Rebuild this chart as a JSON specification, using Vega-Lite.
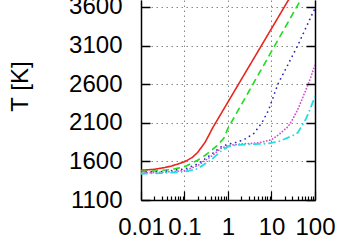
{
  "$schema": "https://vega.github.io/schema/vega-lite/v6.json",
  "width": 174,
  "height": 200,
  "autosize": {"type": "none"},
  "padding": {"left": 141, "top": 0, "right": 45, "bottom": 40},
  "background": "white",
  "config": {"view": {"stroke": null}, "font": "Liberation Sans"},
  "data": {"values": [
    {"s": "r", "x": 0.01, "T": 1485}, {"s": "r", "x": 0.02, "T": 1497}, {"s": "r", "x": 0.035, "T": 1520}, {"s": "r", "x": 0.05, "T": 1540}, {"s": "r", "x": 0.07, "T": 1565}, {"s": "r", "x": 0.1, "T": 1595}, {"s": "r", "x": 0.15, "T": 1650}, {"s": "r", "x": 0.2, "T": 1715}, {"s": "r", "x": 0.3, "T": 1850}, {"s": "r", "x": 0.45, "T": 2040}, {"s": "r", "x": 1, "T": 2370}, {"s": "r", "x": 10, "T": 3320}, {"s": "r", "x": 100, "T": 4270},
    {"s": "g", "x": 0.01, "T": 1470}, {"s": "g", "x": 0.02, "T": 1475}, {"s": "g", "x": 0.05, "T": 1495}, {"s": "g", "x": 0.1, "T": 1530}, {"s": "g", "x": 0.2, "T": 1615}, {"s": "g", "x": 0.3, "T": 1680}, {"s": "g", "x": 0.4, "T": 1735}, {"s": "g", "x": 0.6, "T": 1820}, {"s": "g", "x": 0.8, "T": 1900}, {"s": "g", "x": 1, "T": 2030}, {"s": "g", "x": 10, "T": 3024}, {"s": "g", "x": 100, "T": 4018},
    {"s": "b", "x": 0.01, "T": 1460}, {"s": "b", "x": 0.03, "T": 1468}, {"s": "b", "x": 0.1, "T": 1500}, {"s": "b", "x": 0.2, "T": 1565}, {"s": "b", "x": 0.4, "T": 1685}, {"s": "b", "x": 0.7, "T": 1790}, {"s": "b", "x": 1, "T": 1822}, {"s": "b", "x": 1.5, "T": 1845}, {"s": "b", "x": 2.3, "T": 1880}, {"s": "b", "x": 3.9, "T": 1960}, {"s": "b", "x": 6, "T": 2100}, {"s": "b", "x": 8.5, "T": 2260}, {"s": "b", "x": 14, "T": 2600}, {"s": "b", "x": 40, "T": 3100}, {"s": "b", "x": 90, "T": 3530}, {"s": "b", "x": 100, "T": 3580},
    {"s": "m", "x": 0.01, "T": 1450}, {"s": "m", "x": 0.03, "T": 1458}, {"s": "m", "x": 0.1, "T": 1480}, {"s": "m", "x": 0.2, "T": 1545}, {"s": "m", "x": 0.4, "T": 1660}, {"s": "m", "x": 0.7, "T": 1770}, {"s": "m", "x": 1, "T": 1805}, {"s": "m", "x": 2, "T": 1825}, {"s": "m", "x": 5, "T": 1840}, {"s": "m", "x": 10, "T": 1880}, {"s": "m", "x": 15, "T": 1950}, {"s": "m", "x": 24, "T": 2050}, {"s": "m", "x": 30, "T": 2136}, {"s": "m", "x": 40, "T": 2270}, {"s": "m", "x": 70, "T": 2600}, {"s": "m", "x": 100, "T": 2850},
    {"s": "c", "x": 0.01, "T": 1440}, {"s": "c", "x": 0.03, "T": 1448}, {"s": "c", "x": 0.1, "T": 1465}, {"s": "c", "x": 0.2, "T": 1505}, {"s": "c", "x": 0.4, "T": 1615}, {"s": "c", "x": 0.7, "T": 1735}, {"s": "c", "x": 1, "T": 1790}, {"s": "c", "x": 1.5, "T": 1812}, {"s": "c", "x": 3, "T": 1820}, {"s": "c", "x": 8, "T": 1830}, {"s": "c", "x": 15, "T": 1860}, {"s": "c", "x": 30, "T": 1930}, {"s": "c", "x": 40, "T": 1970}, {"s": "c", "x": 60, "T": 2136}, {"s": "c", "x": 71, "T": 2227}, {"s": "c", "x": 100, "T": 2440}
  ]},
  "encoding": {
    "x": {
      "field": "x", "type": "quantitative",
      "scale": {"type": "log", "domain": [0.01, 100], "nice": false},
      "axis": {
        "title": null,
        "values": [0.01, 0.02, 0.03, 0.04, 0.05, 0.06, 0.07, 0.08, 0.09, 0.1, 0.2, 0.3, 0.4, 0.5, 0.6, 0.7, 0.8, 0.9, 1, 2, 3, 4, 5, 6, 7, 8, 9, 10, 20, 30, 40, 50, 60, 70, 80, 90, 100],
        "labelExpr": "indexof([0.01, 0.1, 1, 10, 100], datum.value) >= 0 ? format(datum.value, '') : ''",
        "labelOverlap": false,
        "labelFlush": false,
        "labelFontSize": 24,
        "labelColor": "black",
        "labelPadding": 24,
        "domainColor": "black",
        "domainWidth": 1.5,
        "tickColor": "black",
        "tickWidth": 1.2,
        "tickSize": {"condition": {"test": "indexof([0.01, 0.1, 1, 10, 100], datum.value) >= 0", "value": -9}, "value": -4},
        "grid": true,
        "gridColor": "#888888",
        "gridDash": [1.5, 3.5],
        "gridWidth": 1,
        "gridOpacity": {"condition": {"test": "indexof([0.01, 0.1, 1, 10, 100], datum.value) >= 0", "value": 1}, "value": 0}
      }
    }
  },
  "layer": [
    {
      "mark": {"type": "line", "clip": true, "strokeCap": "round"},
      "encoding": {
        "y": {
          "field": "T", "type": "quantitative",
          "scale": {"domain": [1100, 3690], "nice": false, "zero": false},
          "axis": {
            "title": "T [K]",
            "titleFontSize": 24,
            "titleFontWeight": "normal",
            "titleColor": "black",
            "titleX": -121,
            "titleY": 86,
            "titleBaseline": "middle",
            "titleAlign": "center",
            "titleAngle": -90,
            "values": [1100, 1600, 2100, 2600, 3100, 3600],
            "format": "d",
            "labelFontSize": 24,
            "labelColor": "black",
            "labelPadding": 28,
            "labelOverlap": false,
            "labelFlush": false,
            "domainColor": "black",
            "domainWidth": 1.5,
            "tickColor": "black",
            "tickWidth": 1.5,
            "tickSize": -9,
            "grid": true,
            "gridColor": "#888888",
            "gridDash": [1.5, 3.5],
            "gridWidth": 1
          }
        },
        "color": {
          "field": "s", "type": "nominal", "legend": null,
          "scale": {"domain": ["r", "g", "b", "m", "c"], "range": ["#e8261f", "#22dd22", "#2a2ab8", "#d050d0", "#22dede"]}
        },
        "strokeDash": {
          "field": "s", "type": "nominal", "legend": null,
          "scale": {"domain": ["r", "g", "b", "m", "c"], "range": [[1, 0], [5.5, 5.5], [0.1, 5], [0.1, 3], [6, 4.5, 0.1, 4.5]]}
        },
        "strokeWidth": {
          "field": "s", "type": "nominal", "legend": null,
          "scale": {"domain": ["r", "g", "b", "m", "c"], "range": [1.6, 1.8, 2.8, 1.7, 2]}
        }
      }
    },
    {
      "mark": {"type": "line", "opacity": 0},
      "encoding": {
        "y": {
          "field": "T", "type": "quantitative",
          "scale": {"domain": [1100, 3690], "nice": false, "zero": false},
          "axis": {
            "orient": "right",
            "title": null,
            "labels": false,
            "grid": false,
            "values": [1100, 1600, 2100, 2600, 3100, 3600],
            "domainColor": "black",
            "domainWidth": 1.5,
            "tickColor": "black",
            "tickWidth": 1.5,
            "tickSize": -9
          }
        }
      }
    }
  ],
  "resolve": {"axis": {"y": "independent"}}
}
